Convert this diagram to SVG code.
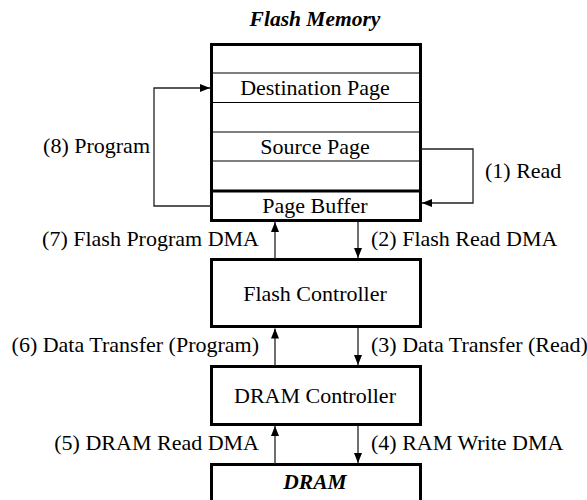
<svg xmlns="http://www.w3.org/2000/svg" width="587" height="500" viewBox="0 0 587 500">
<defs>
<marker id="ah" markerWidth="10" markerHeight="8" refX="10" refY="4" orient="auto" markerUnits="userSpaceOnUse">
<path d="M0,0 L10,4 L0,8 Z" fill="#000"/>
</marker>
<style>
.t{font-family:"Liberation Serif","Times New Roman",serif;font-size:22px;fill:#000}
.bi{font-family:"Liberation Serif","Times New Roman",serif;font-size:21.5px;font-weight:bold;font-style:italic;fill:#000}
.box{fill:#fff;stroke:#000;stroke-width:3}
.row{stroke:#000;stroke-width:1.2;fill:none}
.c{stroke:#222;stroke-width:1.3;fill:none}
</style>
</defs>
<rect width="587" height="500" fill="#fff"/>
<g id="flash-memory">
<text class="bi" x="315" y="26" text-anchor="middle">Flash Memory</text>
<rect class="box" x="211.5" y="44.5" width="209" height="176"/>
<line class="row" x1="211" y1="73" x2="421" y2="73"/>
<line class="row" x1="211" y1="102.5" x2="421" y2="102.5"/>
<line class="row" x1="211" y1="132" x2="421" y2="132"/>
<line class="row" x1="211" y1="161" x2="421" y2="161"/>
<line x1="211" y1="191" x2="421" y2="191" stroke="#000" stroke-width="3"/>
<text class="t" x="315" y="95" text-anchor="middle">Destination Page</text>
<text class="t" x="315" y="154" text-anchor="middle">Source Page</text>
<text class="t" x="315" y="213" text-anchor="middle">Page Buffer</text>
</g>
<g id="flash-controller">
<rect class="box" x="211.5" y="259.5" width="209" height="67"/>
<text class="t" x="315" y="301" text-anchor="middle">Flash Controller</text>
</g>
<g id="dram-controller">
<rect class="box" x="211.5" y="366.5" width="209" height="58"/>
<text class="t" x="315" y="403" text-anchor="middle">DRAM Controller</text>
</g>
<g id="dram">
<rect class="box" x="211.5" y="464.5" width="209" height="50"/>
<text class="bi" x="315" y="489" text-anchor="middle">DRAM</text>
</g>
<g id="connectors">
<polyline class="c" points="211,206 154,206 154,88 210,88" marker-end="url(#ah)"/>
<polyline class="c" points="421,149 473,149 473,203 422,203" marker-end="url(#ah)"/>
<line class="c" x1="275" y1="259" x2="275" y2="222" marker-end="url(#ah)"/>
<line class="c" x1="358" y1="222" x2="358" y2="258" marker-end="url(#ah)"/>
<line class="c" x1="275" y1="366" x2="275" y2="328.5" marker-end="url(#ah)"/>
<line class="c" x1="358" y1="328" x2="358" y2="365" marker-end="url(#ah)"/>
<line class="c" x1="275" y1="464" x2="275" y2="426" marker-end="url(#ah)"/>
<line class="c" x1="358" y1="426" x2="358" y2="463" marker-end="url(#ah)"/>
</g>
<g id="labels">
<text class="t" x="150" y="153" text-anchor="end">(8) Program</text>
<text class="t" x="485" y="178">(1) Read</text>
<text class="t" x="259" y="246" text-anchor="end">(7) Flash Program DMA</text>
<text class="t" x="371" y="246">(2) Flash Read DMA</text>
<text class="t" x="259" y="352" text-anchor="end">(6) Data Transfer (Program)</text>
<text class="t" x="371" y="352">(3) Data Transfer (Read)</text>
<text class="t" x="259" y="450" text-anchor="end">(5) DRAM Read DMA</text>
<text class="t" x="371" y="450">(4) RAM Write DMA</text>
</g>
</svg>
